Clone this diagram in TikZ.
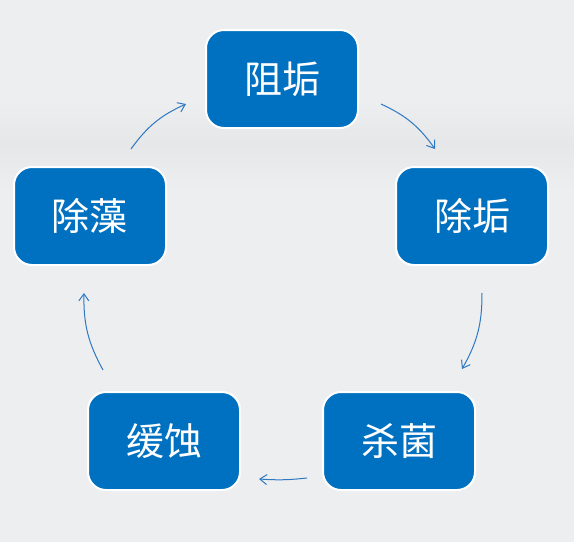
\documentclass[tikz,border=0pt]{standalone}
\usepackage{fontspec}
\setmainfont{Noto Sans CJK SC}
\usetikzlibrary{arrows.meta}
\definecolor{boxblue}{HTML}{0070C0}
\definecolor{arrowblue}{HTML}{2E78C2}
\definecolor{bgpale}{HTML}{ECEEF0}
\definecolor{bgband}{HTML}{E6E7E8}
\tikzset{
  stagebox/.style={draw=white, line width=2pt, fill=boxblue, rounded corners=18pt,
    minimum width=152pt, minimum height=98pt, text=white,
    font=\fontsize{38}{42}\selectfont},
  cyclearrow/.style={draw=arrowblue, line width=1pt, -{Straight Barb[length=7pt,width=10pt]}},
}
\begin{document}
\begin{tikzpicture}[x=1pt, y=-1pt]
				% background
				\fill[bgpale] (0,0) rectangle (574,542);
				\shade[top color=bgpale, bottom color=bgpale, middle color=bgband] (0,100) rectangle (574,190);
				\useasboundingbox (0,0) rectangle (574,542);
				% stages
				\node[stagebox] (zugou) at (282,79) {阻垢};
				\node[stagebox] (chugou) at (472,216) {除垢};
				\node[stagebox] (shajun) at (399,441) {杀菌};
				\node[stagebox] (huanshi) at (164,441) {缓蚀};
				\node[stagebox] (chuzao) at (90,216) {除藻};
				% arrow ends
				\coordinate (a1) at (131,149);
				\coordinate (b1) at (186,104);
				\coordinate (a2) at (381,104);
				\coordinate (b2) at (435,149);
				\coordinate (a3) at (482,293);
				\coordinate (b3) at (462,369);
				\coordinate (a4) at (307,478);
				\coordinate (b4) at (259,479);
				\coordinate (a5) at (103,370);
				\coordinate (b5) at (84,293);
				\draw[cyclearrow] (a1) to[bend left=15] (b1);
				\draw[cyclearrow] (a2) to[bend left=15] (b2);
				\draw[cyclearrow] (a3) to[bend left=15] (b3);
				\draw[cyclearrow] (a4) to[bend left=5] (b4);
				\draw[cyclearrow] (a5) to[bend left=15] (b5);
\end{tikzpicture}
\end{document}
